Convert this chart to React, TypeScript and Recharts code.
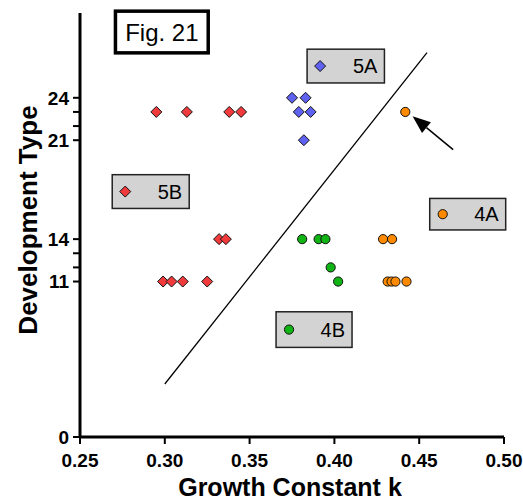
import React from 'react';
import {
  ScatterChart,
  Scatter,
  XAxis,
  YAxis,
  ReferenceLine,
  ReferenceArea,
} from 'recharts';

// ---- data ----
const k5A = [0.375, 0.383, 0.379, 0.386, 0.382];
const t5A = [24, 24, 23, 23, 21];

const k5B = [0.295, 0.313, 0.338, 0.345, 0.332, 0.336, 0.299, 0.304, 0.3106, 0.325];
const t5B = [23, 23, 23, 23, 14, 14, 11, 11, 11, 11];

const k4A = [0.4418, 0.4287, 0.434, 0.4314, 0.4337, 0.436, 0.4425];
const t4A = [23, 14, 14, 11, 11, 11, 11];

const k4B = [0.381, 0.3907, 0.3947, 0.3978, 0.4022];
const t4B = [14, 14, 14, 12, 11];

const xTicks = [0.25, 0.3, 0.35, 0.4, 0.45, 0.5];
const yTicks = [0, 11, 12, 13, 14, 21, 22, 23, 24];
const yLabelled = [0, 11, 14, 21, 24];

// divider line and arrow (data units)
const dividerLine = [
  { x: 0.3, y: 3.75 },
  { x: 0.4546, y: 27.2 },
];
const arrowLine = [
  { x: 0.47, y: 20.33 },
  { x: 0.4461, y: 22.7 },
];

// annotation boxes (data units): [x1, x2, y1, y2]
const figBox = [0.2709, 0.3256, 27.18, 30.13];
const box5A = [0.3839, 0.4295, 25.05, 27.44];
const box5B = [0.269, 0.3144, 16.17, 18.56];
const box4A = [0.4562, 0.501, 14.65, 16.88];
const box4B = [0.3656, 0.4104, 6.34, 8.86];

const FONT = '"Liberation Sans", Arial, Helvetica, sans-serif';

const RED = '#f03a3c';
const BLUE = '#5f62f0';
const ORANGE = '#ff8a00';
const GREEN = '#10b414';

const zip = (ks: number[], ts: number[]) => ks.map((k, i) => ({ k, t: ts[i] }));

const data5A = zip(k5A, t5A);
const data5B = zip(k5B, t5B);
const data4A = zip(k4A, t4A);
const data4B = zip(k4B, t4B);

const Diamond = (color: string) => (props: any) => {
  const { cx, cy } = props;
  const r = 5.5;
  return (
    <polygon
      points={`${cx},${cy - r} ${cx + r},${cy} ${cx},${cy + r} ${cx - r},${cy}`}
      fill={color}
      stroke="#111"
      strokeWidth={1}
    />
  );
};

const Dot = (color: string) => (props: any) => {
  const { cx, cy } = props;
  return <circle cx={cx} cy={cy} r={4.6} fill={color} stroke="#111" strokeWidth={1} />;
};

const legendBox = (label: string, kind: 'diamond' | 'circle', color: string) => (props: any) => {
  const { x, y, width, height } = props;
  const mx = x + 13;
  const my = y + height / 2;
  const r = 5.5;
  return (
    <g>
      <rect x={x} y={y} width={width} height={height} fill="#d3d3d3" stroke="#222" strokeWidth={1.5} />
      {kind === 'diamond' ? (
        <polygon
          points={`${mx},${my - r} ${mx + r},${my} ${mx},${my + r} ${mx - r},${my}`}
          fill={color}
          stroke="#111"
          strokeWidth={1}
        />
      ) : (
        <circle cx={mx} cy={my} r={4.6} fill={color} stroke="#111" strokeWidth={1} />
      )}
      <text
        x={x + width - 7}
        y={my}
        dy={7}
        textAnchor="end"
        fontFamily={FONT}
        fontSize={20}
        fill="#000"
      >
        {label}
      </text>
    </g>
  );
};

const figBoxShape = (props: any) => {
  const { x, y, width, height } = props;
  return (
    <g>
      <rect x={x} y={y} width={width} height={height} fill="#fff" stroke="#000" strokeWidth={3.5} />
      <text
        x={x + width / 2}
        y={y + height / 2}
        dy={8.5}
        textAnchor="middle"
        fontFamily={FONT}
        fontSize={24}
        fill="#000"
      >
        Fig. 21
      </text>
    </g>
  );
};

const arrowShape = (props: any) => {
  const { x1, y1, x2, y2 } = props;
  const dx = x2 - x1;
  const dy = y2 - y1;
  const len = Math.sqrt(dx * dx + dy * dy);
  const ux = dx / len;
  const uy = dy / len;
  const hl = 18;
  const hw = 7;
  const bx = x2 - ux * hl;
  const by = y2 - uy * hl;
  const px = -uy;
  const py = ux;
  return (
    <g>
      <line x1={x1} y1={y1} x2={bx} y2={by} stroke="#000" strokeWidth={1.5} />
      <polygon
        points={`${x2},${y2} ${bx + px * hw},${by + py * hw} ${bx - px * hw},${by - py * hw}`}
        fill="#000"
      />
    </g>
  );
};

const XTitle = (props: any) => {
  const { viewBox } = props;
  const cx = viewBox.x + viewBox.width / 2 - 2;
  return (
    <text x={cx} y={496} textAnchor="middle" fontFamily={FONT} fontWeight="bold" fontSize={25} fill="#000">
      Growth Constant k
    </text>
  );
};

const YTitle = () => {
  return (
    <text
      x={0}
      y={0}
      transform="translate(37, 220) rotate(-90)"
      textAnchor="middle"
      fontFamily={FONT}
      fontWeight="bold"
      fontSize={26}
      fill="#000"
    >
      Development Type
    </text>
  );
};

export default function App() {
  return (
    <div style={{ position: 'absolute', left: 0, top: 0, width: 523, height: 502, background: '#fff' }}>
      <ScatterChart width={523} height={502} margin={{ top: 13, right: 19, bottom: 0, left: 0 }}>
        <XAxis
          type="number"
          dataKey="k"
          domain={[0.25, 0.5]}
          ticks={xTicks}
          tickFormatter={(v: number) => v.toFixed(2)}
          height={65}
          axisLine={{ stroke: '#000', strokeWidth: 3 }}
          tickLine={{ stroke: '#000', strokeWidth: 2 }}
          tickSize={7}
          tickMargin={10}
          tick={{ fill: '#000', fontSize: 19, fontWeight: 'bold', fontFamily: FONT }}
          interval={0}
          allowDataOverflow
          label={<XTitle />}
        />
        <YAxis
          type="number"
          dataKey="t"
          domain={[0, 30]}
          ticks={yTicks}
          tickFormatter={(v: number) => (yLabelled.includes(v) ? String(v) : '')}
          width={80}
          axisLine={{ stroke: '#000', strokeWidth: 3 }}
          tickLine={{ stroke: '#000', strokeWidth: 2 }}
          tickSize={7}
          tickMargin={4}
          tick={{ fill: '#000', fontSize: 19, fontWeight: 'bold', fontFamily: FONT }}
          interval={0}
          allowDataOverflow
          label={<YTitle />}
        />
        <ReferenceLine
          segment={dividerLine}
          stroke="#000"
          strokeWidth={1.3}
          ifOverflow="visible"
        />
        <ReferenceLine segment={arrowLine} shape={arrowShape} ifOverflow="visible" />
        <ReferenceArea
          x1={figBox[0]}
          x2={figBox[1]}
          y1={figBox[2]}
          y2={figBox[3]}
          ifOverflow="visible"
          shape={figBoxShape}
        />
        <ReferenceArea
          x1={box5A[0]}
          x2={box5A[1]}
          y1={box5A[2]}
          y2={box5A[3]}
          ifOverflow="visible"
          shape={legendBox('5A', 'diamond', BLUE)}
        />
        <ReferenceArea
          x1={box5B[0]}
          x2={box5B[1]}
          y1={box5B[2]}
          y2={box5B[3]}
          ifOverflow="visible"
          shape={legendBox('5B', 'diamond', RED)}
        />
        <ReferenceArea
          x1={box4A[0]}
          x2={box4A[1]}
          y1={box4A[2]}
          y2={box4A[3]}
          ifOverflow="visible"
          shape={legendBox('4A', 'circle', ORANGE)}
        />
        <ReferenceArea
          x1={box4B[0]}
          x2={box4B[1]}
          y1={box4B[2]}
          y2={box4B[3]}
          ifOverflow="visible"
          shape={legendBox('4B', 'circle', GREEN)}
        />
        <Scatter name="5B" data={data5B} shape={Diamond(RED)} isAnimationActive={false} />
        <Scatter name="5A" data={data5A} shape={Diamond(BLUE)} isAnimationActive={false} />
        <Scatter name="4B" data={data4B} shape={Dot(GREEN)} isAnimationActive={false} />
        <Scatter name="4A" data={data4A} shape={Dot(ORANGE)} isAnimationActive={false} />
      </ScatterChart>
    </div>
  );
}
